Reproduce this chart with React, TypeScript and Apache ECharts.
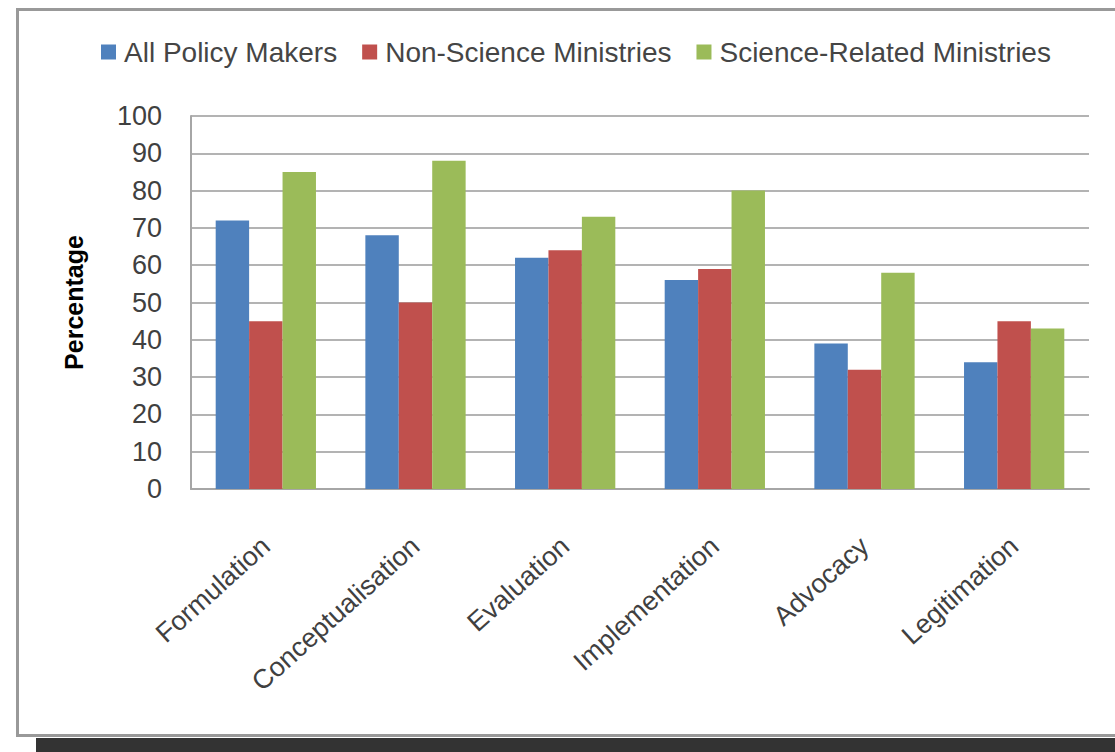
import React, { useEffect, useRef } from "react";
import * as echarts from "echarts";

const categories = ["Formulation", "Conceptualisation", "Evaluation", "Implementation", "Advocacy", "Legitimation"];
const allPolicyMakers = [72, 68, 62, 56, 39, 34];
const nonScienceMinistries = [45, 50, 64, 59, 32, 45];
const scienceRelatedMinistries = [85, 88, 73, 80, 58, 43];
const seriesNames = ["All Policy Makers", "Non-Science Ministries", "Science-Related Ministries"];
const colors = ["#4F81BD", "#C0504D", "#9BBB59"];

const FONT = "Liberation Sans, Arial, sans-serif";

export default function App() {
  const ref = useRef<HTMLDivElement>(null);
  useEffect(() => {
    if (!ref.current) return;
    const chart = echarts.init(ref.current, null, { renderer: "svg" });
    const data = [allPolicyMakers, nonScienceMinistries, scienceRelatedMinistries];
    chart.setOption({
      animation: false,
      backgroundColor: "#ffffff",
      textStyle: { fontFamily: FONT },
      graphic: [
        {
          type: "rect",
          shape: { x: 17.5, y: 9.5, width: 1120, height: 726 },
          style: { fill: "none", stroke: "#999999", lineWidth: 3 },
          silent: true,
        },
        {
          type: "rect",
          shape: { x: 36, y: 738, width: 1079, height: 14 },
          style: { fill: "#333333" },
          silent: true,
        },
      ],
      legend: {
        left: 96,
        top: 33,
        itemWidth: 15,
        itemHeight: 15,
        itemGap: 25,
        icon: "rect",
        textStyle: { fontSize: 28, color: "#454545", fontFamily: FONT, padding: [0, 0, 0, 3] },
        data: seriesNames,
      },
      grid: { left: 191, right: 26, top: 116, bottom: 263, containLabel: false },
      xAxis: {
        type: "category",
        data: categories,
        axisLine: { show: true, lineStyle: { color: "#a6a6a6", width: 2 } },
        axisTick: { show: false },
        axisLabel: {
          rotate: 42,
          margin: 53,
          fontSize: 27,
          color: "#404040",
          fontFamily: FONT,
        },
      },
      yAxis: {
        type: "value",
        min: 0,
        max: 100,
        interval: 10,
        name: "Percentage",
        nameLocation: "middle",
        nameGap: 105,
        nameRotate: 90,
        nameTextStyle: { fontSize: 25, fontWeight: "bold", color: "#000000", fontFamily: FONT },
        axisLine: { show: true, lineStyle: { color: "#a6a6a6", width: 2 } },
        axisTick: { show: false },
        axisLabel: { fontSize: 27, color: "#404040", margin: 29, fontFamily: FONT },
        splitLine: { show: true, lineStyle: { color: "#b3b3b3", width: 2 } },
      },
      series: seriesNames.map((name, i) => ({
        name,
        type: "bar",
        data: data[i],
        barGap: "0%",
        barCategoryGap: "33%",
        itemStyle: { color: colors[i] },
      })),
    });
    return () => chart.dispose();
  }, []);
  return (
    <div
      ref={ref}
      style={{ position: "fixed", left: 0, top: 0, width: 1115, height: 752 }}
    />
  );
}
